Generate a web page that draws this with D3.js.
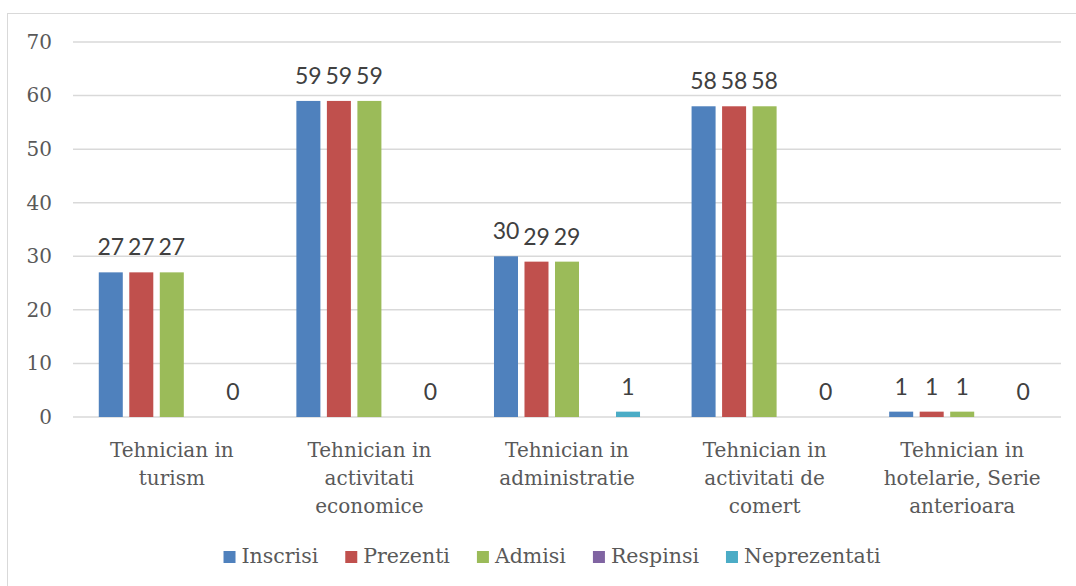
<!DOCTYPE html>
<html>
<head>
<meta charset="utf-8">
<script src="https://cdn.jsdelivr.net/npm/d3@7"></script>
<style>
  body { margin: 0; background: #fff; }
  svg { display: block; }
</style>
</head>
<body>
<div id="chartgoeshere"></div>
<script>
// Chart data
var categories = ["Tehnician in\nturism", "Tehnician in\nactivitati\neconomice", "Tehnician in\nadministratie",
	"Tehnician in\nactivitati de\ncomert", "Tehnician in\nhotelarie, Serie\nanterioara"];
var seriesNames = ["Inscrisi", "Prezenti", "Admisi", "Respinsi", "Neprezentati"];
var inscrisi = [27, 59, 30, 58, 1];
var prezenti = [27, 59, 29, 58, 1];
var admisi = [27, 59, 29, 58, 1];
var respinsi = [null, null, null, null, null];
var neprezentati = [0, 0, 1, 0, 0];
var yTicks = [0, 10, 20, 30, 40, 50, 60, 70];

var colors = ["#4f81bd", "#c0504d", "#9bbb59", "#8064a2", "#4bacc6"];
var allSeries = [inscrisi, prezenti, admisi, respinsi, neprezentati];

// Set chart size
var W = 1076, H = 586;
var margin = { top: 42, right: 15, bottom: 169, left: 73 },
	width = W - margin.left - margin.right,
	height = H - margin.top - margin.bottom;

var svg = d3.select("#chartgoeshere")
	.append("svg")
	.attr("width", W)
	.attr("height", H);

// Outer chart border
svg.append("rect")
	.attr("x", 7.5).attr("y", 13.5)
	.attr("width", 1100).attr("height", 600)
	.attr("fill", "none")
	.attr("stroke", "#d9d9d9")
	.attr("stroke-width", 1);

var g = svg.append("g")
	.attr("transform", "translate(" + margin.left + "," + margin.top + ")");

// Scales
var x0 = d3.scaleBand()
	.domain(d3.range(categories.length))
	.range([0, width])
	.paddingInner(0.228)
	.paddingOuter(0.114);

var x1 = d3.scaleBand()
	.domain(d3.range(seriesNames.length))
	.range([0, x0.bandwidth()])
	.paddingInner(0.213)
	.paddingOuter(0.1065);

var y = d3.scaleLinear()
	.domain([0, 70])
	.range([height, 0]);

// Gridlines
g.selectAll(".grid")
	.data(yTicks)
	.enter()
	.append("line")
	.attr("x1", 0).attr("x2", width)
	.attr("y1", function (d) { return y(d); })
	.attr("y2", function (d) { return y(d); })
	.attr("stroke", "#d9d9d9")
	.attr("stroke-width", 1.5);

// Y axis labels
var yAxis = g.append("g")
	.call(d3.axisLeft(y).tickValues(yTicks).tickSize(0).tickPadding(21));
yAxis.select(".domain").remove();
yAxis.selectAll("text")
	.attr("fill", "#595959")
	.style("font-family", "'DejaVu Serif', serif")
	.style("font-size", "20px");

// Bars
var flat = [];
allSeries.forEach(function (s, si) {
	s.forEach(function (v, ci) {
		flat.push({ s: si, c: ci, v: v });
	});
});

g.selectAll(".bar")
	.data(flat.filter(function (d) { return d.v !== null; }))
	.enter()
	.append("rect")
	.attr("x", function (d) { return x0(d.c) + x1(d.s); })
	.attr("y", function (d) { return y(d.v); })
	.attr("width", x1.bandwidth())
	.attr("height", function (d) { return y(0) - y(d.v); })
	.attr("fill", function (d) { return colors[d.s]; });

// Data labels
g.selectAll(".lbl")
	.data(flat.filter(function (d) { return d.v !== null; }))
	.enter()
	.append("text")
	.attr("x", function (d) { return x0(d.c) + x1(d.s) + x1.bandwidth() / 2; })
	.attr("y", function (d) { return y(d.v) - 17; })
	.attr("text-anchor", "middle")
	.attr("fill", "#404040")
	.style("font-family", "'Liberation Sans Narrow', 'Lato', sans-serif")
	.style("font-size", "23px")
	.text(function (d) { return d.v; });

// Category labels
var cat = g.selectAll(".cat")
	.data(categories)
	.enter()
	.append("text")
	.attr("text-anchor", "middle")
	.attr("fill", "#595959")
	.style("font-family", "'DejaVu Serif', serif")
	.style("font-size", "20px")
	.attr("transform", function (d, i) {
		return "translate(" + (x0(i) + x0.bandwidth() / 2) + "," + (height + 40) + ")";
	});
cat.each(function (d) {
	var t = d3.select(this);
	d.split("\n").forEach(function (line, k) {
		t.append("tspan")
			.attr("x", 0)
			.attr("y", k * 28)
			.text(line);
	});
});

// Legend
var legend = svg.append("g");
var lx = 0;
seriesNames.forEach(function (name, i) {
	var item = legend.append("g").attr("transform", "translate(" + lx + ",0)");
	item.append("rect")
		.attr("x", 0).attr("y", -12)
		.attr("width", 12).attr("height", 12)
		.attr("fill", colors[i]);
	var txt = item.append("text")
		.attr("x", 18).attr("y", 0)
		.attr("fill", "#595959")
		.style("font-family", "'DejaVu Serif', serif")
		.style("font-size", "20.5px")
		.text(name);
	lx += 18 + txt.node().getComputedTextLength() + 27;
});
var legendW = lx - 27;
legend.attr("transform", "translate(" + (552 - legendW / 2) + ",563)");
</script>
</body>
</html>
